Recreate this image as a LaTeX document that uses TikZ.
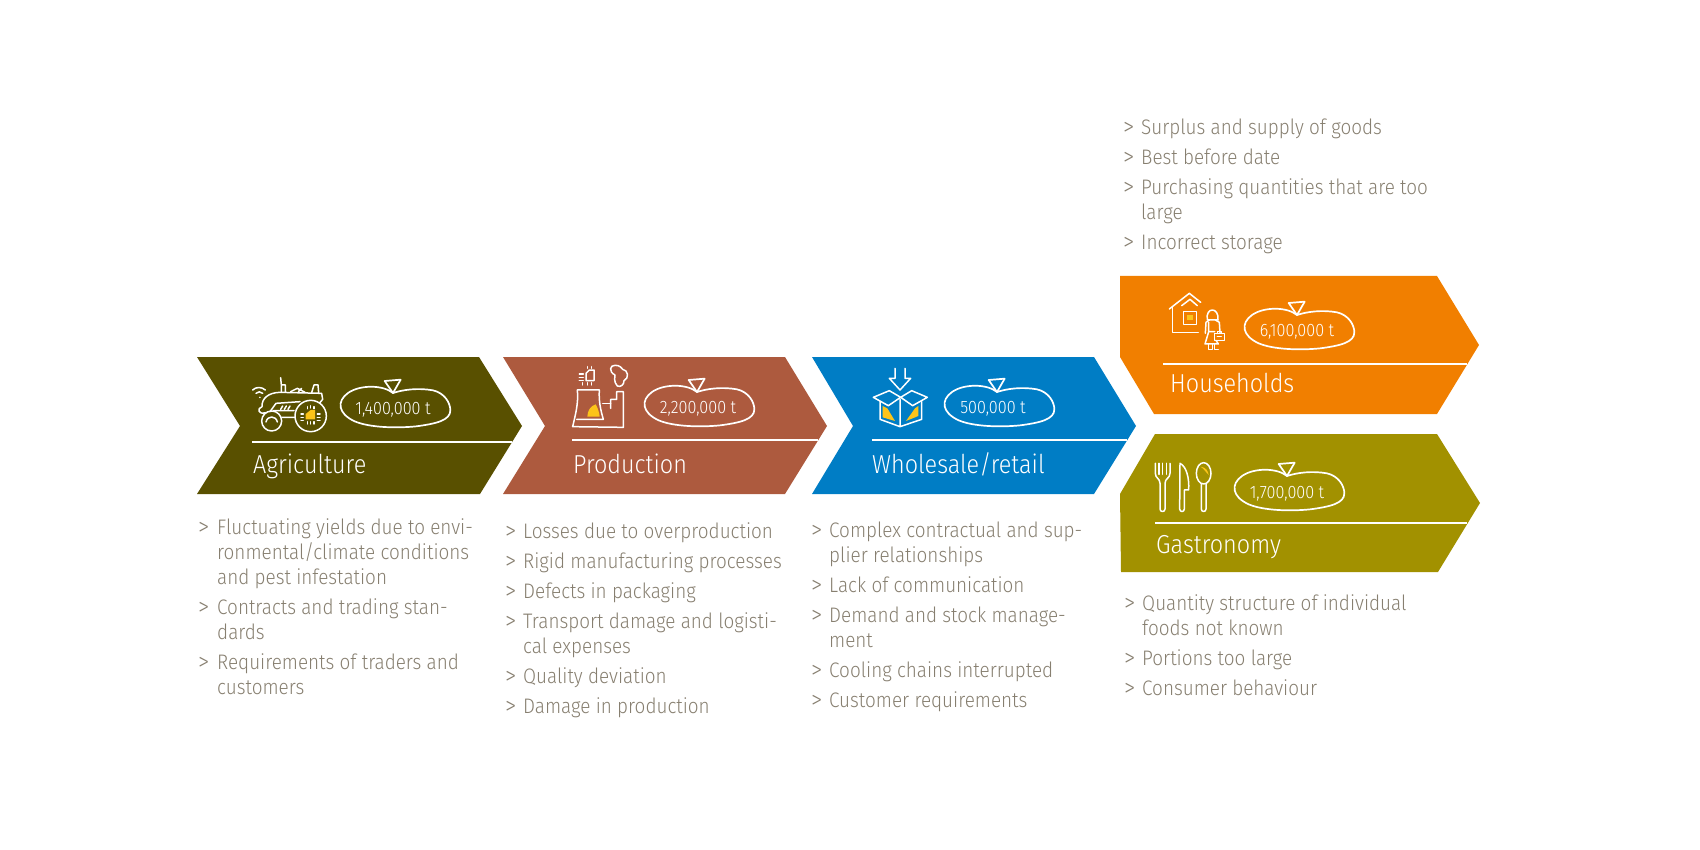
\documentclass[tikz,border=0pt]{standalone}
\usepackage{fontspec}
\setmainfont{Fira Sans}[UprightFont=* Light,FakeStretch=0.9]
\usepackage{array}
\usetikzlibrary{positioning}

\definecolor{agricol}{HTML}{595000}
\definecolor{prodcol}{HTML}{AD5A3E}
\definecolor{salecol}{HTML}{007DC5}
\definecolor{housecol}{HTML}{F17F00}
\definecolor{gastrocol}{HTML}{A29100}
\definecolor{listcol}{HTML}{877F70}
\definecolor{chipcol}{HTML}{FCC419}

\newcommand{\mk}{\fontsize{25}{25}\selectfont\raisebox{-1pt}{>}}

\tikzset{
  rule/.style={white, line width=1.6pt},
  stagename/.style={text=white, font=\fontsize{26}{26}\selectfont, inner sep=0pt, anchor=base west},
  tonnes/.style={text=white, font=\fontsize{18}{18}\selectfont, inner sep=0pt, anchor=base},
  causes/.style={text=listcol, font=\fontsize{21}{25}\selectfont, inner sep=0pt, anchor=base west},
  icon/.style={draw=white, line width=1.5pt, line cap=round, line join=round},
  chip/.style={fill=chipcol, draw=none},
  pics/blob/.style={code={
    \draw[icon, line width=1.7pt, scale=1/3]
      (0,0) .. controls (30,-10) and (75,-16) .. (120,-8)
      .. controls (155,0) and (172,30) .. (172,52)
      .. controls (172,82) and (130,92) .. (70,100)
      .. controls (10,106) and (-70,104) .. (-115,85)
      .. controls (-165,62) and (-170,25) .. (-135,0)
      .. controls (-100,-25) and (-30,-25) .. (0,0) -- cycle;
    \draw[icon, line width=1.7pt, scale=1/3] (0,0) -- (-25,-36) -- (23,-40) -- cycle;
  }}
}

\begin{document}
\begin{tikzpicture}[x=1pt,y=-1pt]
  \useasboundingbox (0,0) rectangle (1700,850);

  % arrows
  \fill[agricol] (197,357) -- (479,357) -- (522,426) -- (480,494) -- (197,494) -- (240,426) -- cycle;
  \fill[prodcol] (503,357) -- (785,357) -- (827,426) -- (785,494) -- (503,494) -- (545,426) -- cycle;
  \fill[salecol] (812,357) -- (1094,357) -- (1136,426) -- (1094,494) -- (812,494) -- (853,426) -- cycle;
  \fill[housecol] (1120,276) -- (1437,276) -- (1479,345) -- (1437,414) -- (1154,414) -- (1120,357) -- cycle;
  \fill[gastrocol] (1155,434) -- (1437,434) -- (1480,503) -- (1438,572) -- (1121,572) -- (1120,494) -- cycle;

  % rules
  \draw[rule] (252,442) -- (512,442);
  \draw[rule] (572,440) -- (818,440);
  \draw[rule] (872,440) -- (1127,440);
  \draw[rule] (1163,364) -- (1467,364);
  \draw[rule] (1155,523) -- (1467,523);

  % names
  \node[stagename] (agriname) at (253,473) {Agriculture};
  \node[stagename] (prodname) at (573,473) {Production};
  \node[stagename] (salename) at (872,473) {Wholesale/retail};
  \node[stagename] (housename) at (1170,392) {Households};
  \node[stagename] (gastroname) at (1156,553) {Gastronomy};

  % amounts
  \pic at (393,393) {blob};
  \pic at (697,392) {blob};
  \pic at (997,392) {blob};
  \pic at (1297,315) {blob};
  \pic at (1287,476) {blob};
  \node[tonnes] (agriamount) at (393,414) {1,400,000 t};
  \node[tonnes] (prodamount) at (698,413) {2,200,000 t};
  \node[tonnes] (saleamount) at (993,413) {500,000 t};
  \node[tonnes] (houseamount) at (1297,337) {6,100,000 t};
  \node[tonnes] (gastroamount) at (1287,498) {1,700,000 t};

  % tractor
  \begin{scope}[shift={(190,340)},scale=1/3]
    \fill[chip] (347,238) -- (347,222) -- (362,210) -- (375,210) -- (375,238) -- cycle;
    \draw[icon] (362,228) circle (47) (245,243) circle (30);
    \draw[icon] (228,246) .. controls (232,226) and (258,226) .. (262,246);
    \draw[icon] (226,218) .. controls (205,225) and (200,205) .. (216,200)
      .. controls (215,175) and (235,158) .. (270,157) -- (395,160) -- (398,178) -- (388,190);
    \draw[icon] (274,157) -- (274,135) -- (272,113) (274,135) -- (286,135) -- (286,157);
    \draw[icon] (302,155) -- (322,145) -- (345,157) (335,145) -- (325,155);
    \draw[icon] (365,158) -- (372,135) -- (384,135) -- (386,158);
    \draw[icon] (240,215) -- (258,190) -- (330,185) (250,212) -- (312,212) (276,232) -- (315,232);
    \draw[icon] (272,208) -- (278,198) (283,208) -- (289,198) (294,208) -- (300,198);
    \draw[icon] (188,150) .. controls (198,140) and (215,140) .. (226,150)
      (198,160) .. controls (204,154) and (212,154) .. (218,160) (209,172) -- (210,172);
    \draw[icon] (333,222) -- (340,222) (333,232) -- (340,232) (333,242) -- (340,242)
      (382,222) -- (390,222) (382,232) -- (390,232) (382,242) -- (390,242)
      (352,200) -- (352,206) (362,197) -- (362,204) (372,200) -- (372,206)
      (352,245) -- (352,252) (362,245) -- (362,252) (372,245) -- (372,252);
  \end{scope}

  % power plant
  \begin{scope}[shift={(500,340)},scale=1/3]
    \fill[chip] (262,230) .. controls (262,212) and (272,198) .. (287,193)
      .. controls (294,205) and (298,218) .. (299,230) -- cycle;
    \draw[icon] (232,150) -- (298,150) .. controls (296,185) and (302,210) .. (310,238) -- (230,238);
    \draw[icon] (232,150) .. controls (236,190) and (226,225) .. (218,260) -- (370,262) -- (370,155) -- (350,155) -- (350,178) -- (332,178) -- (332,205);
    \draw[icon] (308,190) -- (332,190);
    \draw[icon] (258,122) -- (258,100) -- (268,90) -- (282,90) -- (282,122) -- cycle;
    \draw[icon] (238,102) -- (250,102) (238,112) -- (250,112) (238,122) -- (250,122)
      (262,80) -- (262,85) (275,80) -- (275,85) (248,128) -- (248,135) (262,128) -- (262,135) (275,128) -- (275,135);
    \draw[icon] (352,138) .. controls (340,125) and (345,110) .. (345,105)
      .. controls (325,95) and (330,75) .. (345,76) .. controls (360,75) and (365,85) .. (368,88)
      .. controls (385,90) and (388,115) .. (372,122) .. controls (372,135) and (362,142) .. (352,138) -- cycle;
  \end{scope}

  % box
  \begin{scope}[shift={(810,340)},scale=1/3]
    \fill[chip] (218,198) -- (232,205) -- (255,243) -- (218,232) -- cycle;
    \fill[chip] (325,198) -- (315,205) -- (288,243) -- (325,228) -- cycle;
    \draw[icon] (255,85) -- (255,115) -- (238,115) -- (270,150) -- (302,115) -- (285,115) -- (285,85);
    \draw[icon] (272,172) -- (235,197) -- (190,172) -- (238,152) -- cycle;
    \draw[icon] (272,172) -- (308,197) -- (352,172) -- (305,152) -- cycle;
    \draw[icon] (210,185) -- (210,238) -- (270,260) -- (335,238) -- (335,185) (270,178) -- (270,260);
  \end{scope}

  % house and person
  \begin{scope}[shift={(1110,265)},scale=1/3]
    \fill[chip] (232,150) rectangle (248,166);
    \draw[icon] (178,132) -- (238,85) -- (272,112) (215,122) -- (240,103) -- (262,122);
    \draw[icon] (188,125) -- (188,203) -- (265,203);
    \draw[icon] (220,140) rectangle (260,178);
    \draw[icon] (292,165) .. controls (285,125) and (328,125) .. (324,165) -- cycle;
    \draw[icon] (298,165) -- (288,172) -- (286,205) (316,165) -- (328,172) -- (330,203);
    \draw[icon] (296,172) -- (296,200) -- (285,237) -- (325,237) -- (318,226) (296,200) -- (314,200);
    \draw[icon] (313,205) rectangle (343,226) (322,205) -- (322,200) -- (334,200) -- (334,205) (322,215) -- (334,215);
    \draw[icon] (296,237) -- (296,254) -- (308,254) -- (308,237) (314,237) -- (314,254) -- (325,254);
  \end{scope}

  % cutlery
  \begin{scope}[shift={(1110,265)},scale=1/3]
    \fill[chip] (272,605) .. controls (288,607) and (294,618) .. (296,630) .. controls (288,622) and (282,612) .. (272,605) -- cycle;
    \draw[icon] (136,595) -- (136,625) .. controls (136,640) and (150,640) .. (150,655) -- (150,732)
      .. controls (150,742) and (165,742) .. (165,732) -- (165,655) .. controls (165,640) and (180,640) .. (180,625) -- (180,595);
    \draw[icon] (147,595) -- (147,628) (158,595) -- (158,628) (169,595) -- (169,628);
    \draw[icon] (210,595) .. controls (230,605) and (238,640) .. (236,675) -- (223,675) -- (223,732)
      .. controls (223,742) and (209,742) .. (209,732) -- cycle;
    \draw[icon] (281,625) ellipse (22 and 32);
    \draw[icon] (274,656) -- (274,732) .. controls (274,742) and (288,742) .. (288,732) -- (288,656);
  \end{scope}

  % lists
  \node[causes] (agricauses) at (198,534) {\begin{tabular}[t]{@{}p{19pt}@{}l@{}}
    \mk & Fluctuating yields due to envi-\\
      & ronmental/climate conditions\\
      & and pest infestation\\[5pt]
    \mk & Contracts and trading stan-\\
      & dards\\[5pt]
    \mk & Requirements of traders and\\
      & customers
  \end{tabular}};
  \node[causes] (prodcauses) at (505,538) {\begin{tabular}[t]{@{}p{18pt}@{}l@{}}
    \mk & Losses due to overproduction\\[5pt]
    \mk & Rigid manufacturing processes\\[5pt]
    \mk & Defects in packaging\\[5pt]
    \mk & Transport damage and logisti-\\
      & cal expenses\\[5pt]
    \mk & Quality deviation\\[5pt]
    \mk & Damage in production
  \end{tabular}};
  \node[causes] (salecauses) at (811,537) {\begin{tabular}[t]{@{}p{18pt}@{}l@{}}
    \mk & Complex contractual and sup-\\
      & plier relationships\\[5pt]
    \mk & Lack of communication\\[5pt]
    \mk & Demand and stock manage-\\
      & ment\\[5pt]
    \mk & Cooling chains interrupted\\[5pt]
    \mk & Customer requirements
  \end{tabular}};
  \node[causes] (gastrocauses) at (1124,610) {\begin{tabular}[t]{@{}p{18pt}@{}l@{}}
    \mk & Quantity structure of individual\\
      & foods not known\\[5pt]
    \mk & Portions too large\\[5pt]
    \mk & Consumer behaviour
  \end{tabular}};
  \node[causes] (housecauses) at (1123,135) {\begin{tabular}[t]{@{}p{18pt}@{}l@{}}
    \mk & Surplus and supply of goods\\[5pt]
    \mk & Best before date\\[5pt]
    \mk & Purchasing quantities that are too\\
      & large\\[5pt]
    \mk & Incorrect storage
  \end{tabular}};
\end{tikzpicture}
\end{document}
